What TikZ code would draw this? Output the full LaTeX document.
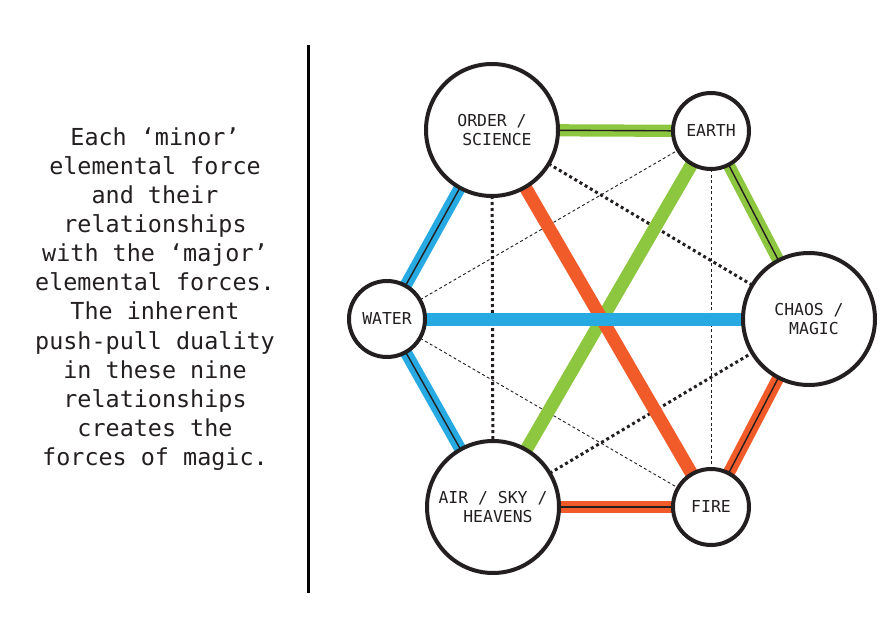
\documentclass[tikz,border=0pt]{standalone}
\usepackage{fontspec}
\setmonofont{DejaVu Sans Mono}
\usetikzlibrary{backgrounds}
\definecolor{cblue}{HTML}{27AAE1}
\definecolor{cgreen}{HTML}{8DC63F}
\definecolor{corange}{HTML}{F15A29}
\definecolor{ink}{HTML}{231F20}
\begin{document}
\begin{tikzpicture}[x=1bp,y=-1bp,
  big/.style={circle,draw=ink,line width=4bp,fill=white,minimum size=132bp,inner sep=0pt,
    font=\ttfamily\fontsize{16.5}{19.5}\selectfont,align=center,text=ink},
  small/.style={big,minimum size=76bp},
  solidband/.style={line width=13bp},
  band/.style={line width=5.4bp,double=ink,double distance=1.4bp},
  dotline/.style={draw=ink,line width=3bp,dash pattern=on 3bp off 3bp},
  thindash/.style={draw=ink,line width=0.9bp,dash pattern=on 3bp off 2.5bp}]
\useasboundingbox (0,0) rectangle (896,640);

% description
\node[font=\ttfamily\fontsize{23.5}{29.2}\selectfont,align=center,text=ink] (desc) at (155,299)
 {Each ‘minor’\\elemental force\\and their\\relationships\\with the ‘major’\\elemental forces.\\The inherent\\push-pull duality\\in these nine\\relationships\\creates the\\forces of magic.};

% separator
\coordinate (septop) at (308,45);
\coordinate (sepbot) at (308,593);
\draw[line width=3bp,black] (septop) -- (sepbot);

% nodes
\node[big] (order) at (492,130) {ORDER /\\\phantom{X}SCIENCE};
\node[small] (earth) at (711,131) {EARTH};
\node[big] (chaos) at (809,319) {CHAOS /\\\phantom{X}MAGIC};
\node[small] (water) at (387,319) {WATER};
\node[big] (air) at (493,507) {AIR / SKY /\\\phantom{X}HEAVENS};
\node[small] (fire) at (711,507) {FIRE};

\begin{scope}[on background layer]
  % thin dashed
  \draw[thindash] (water.center) -- (earth.center);
  \draw[thindash] (water.center) -- (fire.center);
  \draw[thindash] (earth.center) -- (fire.center);
  % dotted
  \draw[dotline] (order.center) -- (air.center);
  \draw[dotline] (order.center) -- (chaos.center);
  \draw[dotline] (air.center) -- (chaos.center);
  % outer ring (double)
  \draw[band,draw=cgreen] (order.center) -- (earth.center);
  \draw[band,draw=cgreen] (earth.center) -- (chaos.center);
  \draw[band,draw=corange] (chaos.center) -- (fire.center);
  \draw[band,draw=corange] (fire.center) -- (air.center);
  \draw[band,draw=cblue] (air.center) -- (water.center);
  \draw[band,draw=cblue] (water.center) -- (order.center);
  % solid cross bands
  \draw[solidband,draw=cgreen] (air.center) -- (earth.center);
  \draw[solidband,draw=corange] (order.center) -- (fire.center);
  \draw[solidband,draw=cblue] (water.center) -- (chaos.center);
\end{scope}
\end{tikzpicture}
\end{document}
